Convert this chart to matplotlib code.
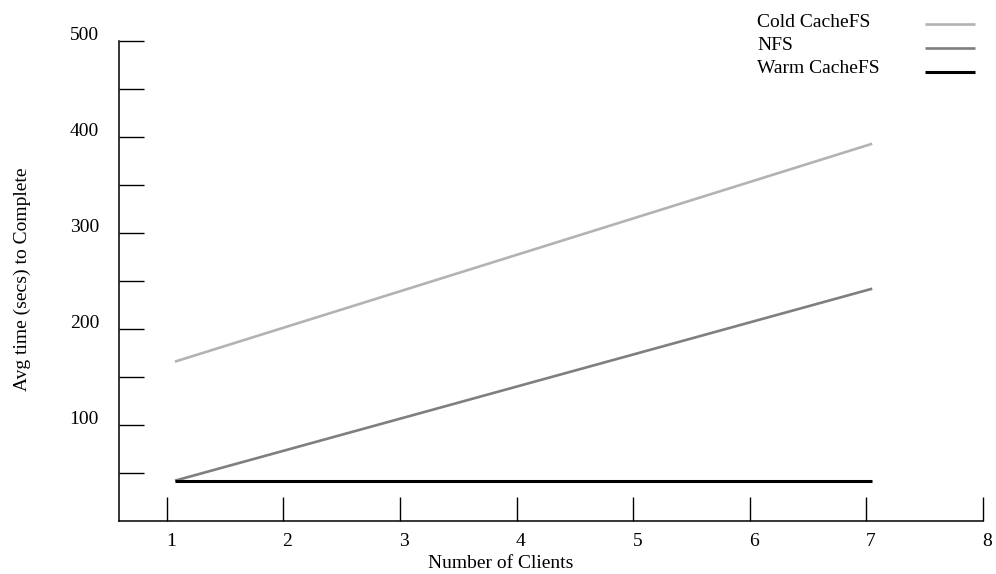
import matplotlib
matplotlib.use("Agg")
import matplotlib.pyplot as plt
from matplotlib.transforms import ScaledTranslation

plt.rcParams['font.family'] = ['Liberation Serif', 'DejaVu Serif']
plt.rcParams['font.size'] = 14

# data
clients = [1.07, 7.05]
cold_cachefs = [166, 393]
nfs = [42, 242]
warm_cachefs = [42, 42]
series_names = ['Cold CacheFS', 'NFS', 'Warm CacheFS']

x_ticks = [1, 2, 3, 4, 5, 6, 7, 8]
y_ticks = [50, 100, 150, 200, 250, 300, 350, 400, 450, 500]
y_labels = [100, 200, 300, 400, 500]

W, H = 996, 574
fig = plt.figure(figsize=(W / 100, H / 100), dpi=100)
ax = fig.add_axes([119 / W, (H - 521) / H, (983 - 119) / W, (521 - 41) / H])

l1, = ax.plot(clients, cold_cachefs, color='#b3b3b3', lw=1.9, solid_capstyle='butt')
l2, = ax.plot(clients, nfs, color='#7f7f7f', lw=1.9, solid_capstyle='butt')
l3, = ax.plot(clients, warm_cachefs, color='black', lw=2.2, solid_capstyle='butt')

ax.set_xlim(0.59, 8)
ax.set_ylim(0, 500)

for side in ['top', 'right']:
    ax.spines[side].set_visible(False)
for side in ['left', 'bottom']:
    ax.spines[side].set_linewidth(1.1)
    ax.spines[side].set_color('black')

ax.set_xticks(x_ticks)
ax.set_yticks(y_ticks)
ax.set_xticklabels([])
ax.set_yticklabels([])
ax.tick_params(axis='y', direction='in', length=18, width=1.0, color='black')
ax.tick_params(axis='x', direction='in', length=17.5, width=1.0, color='black')

# tick labels, slightly offset like the original
ytr = ax.get_yaxis_transform() + ScaledTranslation(-20 / 100, 5 / 100, fig.dpi_scale_trans)
for v in y_labels:
    ax.text(0, v, str(v), transform=ytr, ha='right', va='center')
xtr = ax.get_xaxis_transform() + ScaledTranslation(4 / 100, -12 / 100, fig.dpi_scale_trans)
for v in x_ticks:
    ax.text(v, 0, str(v), transform=xtr, ha='center', va='top')

fig.text(22 / W, 1 - 279 / H, 'Avg time (secs) to Complete', rotation=90,
         ha='center', va='center')
fig.text(501 / W, 1 - 563 / H, 'Number of Clients', ha='center', va='center')

# legend: left-aligned names, swatches in a column on the right
for name, base in zip(series_names, [26.7, 50, 73.3]):
    fig.text(757 / W, 1 - base / H, name, ha='left', va='baseline')
ax.legend([l1, l2, l3], ['', '', ''], loc='upper left',
          bbox_to_anchor=(925 / W, 1 - 17 / H), bbox_transform=fig.transFigure,
          frameon=False, handlelength=2.58, handletextpad=0, labelspacing=0.33,
          borderaxespad=0, borderpad=0)

fig.savefig('out.png', dpi=100)
